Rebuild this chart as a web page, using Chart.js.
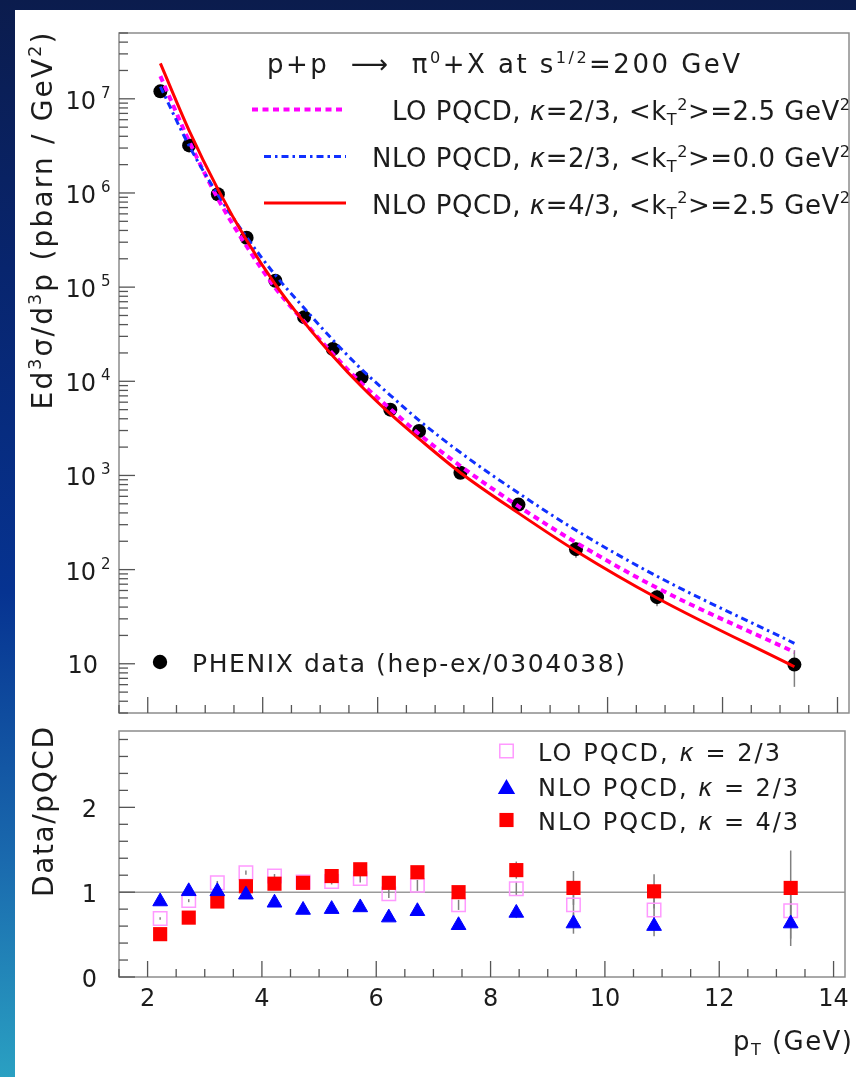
<!DOCTYPE html>
<html>
<head>
<meta charset="utf-8">
<title>p+p to pi0 + X at 200 GeV</title>
<script src="https://cdn.jsdelivr.net/npm/chart.js@4.4.1/dist/chart.umd.min.js"></script>
<style>
  html, body { margin: 0; padding: 0; }
  body {
    width: 856px; height: 1077px; overflow: hidden; position: relative;
    background: linear-gradient(to bottom, #0b1c4d 0%, #08256e 25%, #063391 55%, #1a6aae 80%, #2aa0c2 100%);
  }
  #panel { position: absolute; left: 15px; top: 10px; width: 841px; height: 1067px; background: #fff; }
  canvas { position: absolute; left: 0; }
  #spectrum { top: 0; }
  #ratio { top: 720px; }
</style>
</head>
<body>
<div id="panel"></div>
<canvas id="spectrum" width="856" height="720"></canvas>
<canvas id="ratio" width="856" height="357"></canvas>
<script>
// PHENIX pi0 points (hep-ex/0304038), pT in GeV
const pt = [2.22, 2.72, 3.22, 3.72, 4.22, 4.72, 5.22, 5.72, 6.22, 6.72, 7.44, 8.45, 9.45, 10.86, 13.25];
const phenix = [1.2e7, 3.2e6, 9.7e5, 3.35e5, 1.17e5, 4.8e4, 2.2e4, 1.1e4, 5.0e3, 2.97e3, 1.07e3, 490, 165, 51, 9.8];
const phenixErr = [0.02, 0.02, 0.02, 0.02, 0.02, 0.02, 0.03, 0.04, 0.05, 0.06, 0.07, 0.08, 0.19, 0.2, 0.42]; // relative

// pQCD curves
const loK23 = [1.74e7, 3.55e6, 8.7e5, 2.72e5, 9.8e4, 4.3e4, 1.96e4, 9.5e3, 5.1e3, 2.75e3, 1.26e3, 470, 194, 64, 13.3];
const nloK23 = [1.35e7, 3.17e6, 9.6e5, 3.4e5, 1.34e5, 6.0e4, 2.75e4, 1.34e4, 7.1e3, 3.85e3, 1.75e3, 650, 262, 85, 16.5];
const nloK43 = [2.38e7, 4.6e6, 1.1e6, 3.15e5, 1.07e5, 4.25e4, 1.86e4, 8.8e3, 4.5e3, 2.45e3, 1.07e3, 398, 158, 50, 9.3];

// data / pQCD
const ratioLO = [0.69, 0.90, 1.11, 1.23, 1.19, 1.12, 1.125, 1.16, 0.98, 1.08, 0.85, 1.04, 0.85, 0.79, 0.78];
const ratioNLO23 = [0.89, 1.01, 1.01, 0.97, 0.875, 0.79, 0.80, 0.82, 0.70, 0.775, 0.61, 0.755, 0.63, 0.60, 0.63];
const ratioNLO43 = [0.505, 0.70, 0.89, 1.07, 1.10, 1.11, 1.19, 1.27, 1.11, 1.235, 1.00, 1.26, 1.05, 1.01, 1.05];

const xTicks = [2, 4, 6, 8, 10, 12, 14];
const yDecades = [1, 2, 3, 4, 5, 6, 7];
const ratioTicks = [0, 1, 2];

const FONT = '"DejaVu Sans", sans-serif';
const INK = '#1c1c1c';
const FRAME = '#8c8c8c';
const RATIO_TOP = 720;

function xy(ys) {
  return pt.map((p, i) => ({ x: p, y: ys[i] }));
}

// draws a run of text pieces: [text, mode] with mode '', 'it', 'sup', 'sub'
function textRun(ctx, parts, x, y, opts) {
  const size = opts.size;
  let natural = 0, count = 0;
  const runs = parts.map(p => {
    const t = p[0], mode = p[1] || '';
    const small = mode === 'sup' || mode === 'sub';
    const font = (mode === 'it' ? 'italic ' : '') + (small ? size * 0.62 : size) + 'px ' + FONT;
    ctx.font = font;
    ctx.letterSpacing = '0px';
    const w = ctx.measureText(t).width;
    natural += w;
    count += [...t].length;
    return { t, font, w, dy: mode === 'sup' ? -size * 0.4 : mode === 'sub' ? size * 0.2 : 0 };
  });
  const gap = opts.width ? (opts.width - natural) / Math.max(count - 1, 1) : 0;
  const total = natural + gap * (count - 1);
  let cx = opts.align === 'right' ? x - total : opts.align === 'center' ? x - total / 2 : x;
  ctx.fillStyle = opts.color || INK;
  ctx.textAlign = 'left';
  ctx.textBaseline = 'alphabetic';
  ctx.letterSpacing = gap + 'px';
  runs.forEach(r => {
    ctx.font = r.font;
    ctx.fillText(r.t, cx, y + r.dy);
    cx += r.w + gap * [...r.t].length;
  });
  ctx.letterSpacing = '0px';
}

function drawFrame(ctx, a) {
  ctx.strokeStyle = FRAME;
  ctx.lineWidth = 1.5;
  ctx.strokeRect(a.left, a.top, a.right - a.left, a.bottom - a.top);
}

function drawXTicks(ctx, a, x) {
  ctx.strokeStyle = '#555';
  ctx.lineWidth = 1.3;
  for (let v = 1.5; v <= 14.01; v += 0.5) {
    const px = x.getPixelForValue(v);
    const len = xTicks.includes(v) ? 16 : 8;
    ctx.beginPath();
    ctx.moveTo(px, a.bottom);
    ctx.lineTo(px, a.bottom - len);
    ctx.stroke();
  }
}

function vBar(ctx, px, y1, y2) {
  ctx.beginPath();
  ctx.moveTo(px, y1);
  ctx.lineTo(px, y2);
  ctx.stroke();
}

const spectrumDeco = {
  id: 'spectrumDeco',
  beforeDatasetsDraw(chart) {
    const { ctx, scales: { x, y } } = chart;
    ctx.save();
    ctx.strokeStyle = '#808080';
    ctx.lineWidth = 1.5;
    pt.forEach((p, i) => {
      vBar(ctx, x.getPixelForValue(p),
        y.getPixelForValue(phenix[i] * (1 + phenixErr[i])),
        y.getPixelForValue(phenix[i] * (1 - phenixErr[i])));
    });
    ctx.restore();
  },
  afterDatasetsDraw(chart) {
    const { ctx, chartArea: a, scales: { x, y } } = chart;
    ctx.save();
    drawFrame(ctx, a);
    drawXTicks(ctx, a, x);

    // log ticks on the left
    ctx.strokeStyle = '#555';
    ctx.lineWidth = 1.3;
    for (let n = 0; n <= 7; n++) {
      for (let k = 1; k <= 9; k++) {
        const v = k * Math.pow(10, n);
        if (v < y.min || v > y.max) continue;
        const py = y.getPixelForValue(v);
        ctx.beginPath();
        ctx.moveTo(a.left, py);
        ctx.lineTo(a.left + (k === 1 ? 16 : 9), py);
        ctx.stroke();
      }
    }
    yDecades.forEach(n => {
      const py = y.getPixelForValue(Math.pow(10, n));
      if (n === 1) {
        textRun(ctx, [['10']], 98, py + 9, { size: 24, align: 'right' });
      } else {
        textRun(ctx, [['10']], 96, py + 10, { size: 24, align: 'right' });
        textRun(ctx, [[String(n)]], 101, py - 1, { size: 15 });
      }
    });

    // y title
    ctx.save();
    ctx.translate(52, 221);
    ctx.rotate(-Math.PI / 2);
    textRun(ctx, [['Ed'], ['3', 'sup'], ['σ/d'], ['3', 'sup'], ['p (pbarn / GeV'], ['2', 'sup'], [')']],
      0, 0, { size: 28, align: 'center', width: 377 });
    ctx.restore();

    // title and legend
    textRun(ctx, [['p+p  ⟶  π'], ['0', 'sup'], ['+X at s'], ['1/2', 'sup'], ['=200 GeV']],
      267, 73, { size: 26, width: 473 });

    ctx.lineWidth = 4;
    ctx.strokeStyle = '#ff00ff';
    ctx.setLineDash([6, 4.5]);
    ctx.beginPath(); ctx.moveTo(252, 109.5); ctx.lineTo(346, 109.5); ctx.stroke();
    ctx.lineWidth = 3;
    ctx.strokeStyle = '#1030ff';
    ctx.setLineDash([7, 4, 2.5, 4]);
    ctx.beginPath(); ctx.moveTo(264, 156.5); ctx.lineTo(346, 156.5); ctx.stroke();
    ctx.strokeStyle = '#ff0000';
    ctx.setLineDash([]);
    ctx.beginPath(); ctx.moveTo(264, 203); ctx.lineTo(346, 203); ctx.stroke();

    textRun(ctx, [['LO PQCD, '], ['κ', 'it'], ['=2/3, <k'], ['T', 'sub'], ['2', 'sup'], ['>=2.5 GeV'], ['2', 'sup']],
      850, 120, { size: 26, align: 'right', width: 458 });
    textRun(ctx, [['NLO PQCD, '], ['κ', 'it'], ['=2/3, <k'], ['T', 'sub'], ['2', 'sup'], ['>=0.0 GeV'], ['2', 'sup']],
      850, 167, { size: 26, align: 'right', width: 478 });
    textRun(ctx, [['NLO PQCD, '], ['κ', 'it'], ['=4/3, <k'], ['T', 'sub'], ['2', 'sup'], ['>=2.5 GeV'], ['2', 'sup']],
      850, 213.5, { size: 26, align: 'right', width: 478 });

    ctx.fillStyle = '#000';
    ctx.beginPath(); ctx.arc(160, 662, 7.2, 0, Math.PI * 2); ctx.fill();
    textRun(ctx, [['PHENIX data (hep-ex/0304038)']], 192, 672, { size: 25, width: 433 });
    ctx.restore();
  }
};

const ratioDeco = {
  id: 'ratioDeco',
  beforeDatasetsDraw(chart) {
    const { ctx, chartArea: a, scales: { x, y } } = chart;
    ctx.save();
    ctx.strokeStyle = '#9a9a9a';
    ctx.lineWidth = 1.5;
    const p1 = y.getPixelForValue(1);
    ctx.beginPath(); ctx.moveTo(a.left, p1); ctx.lineTo(a.right, p1); ctx.stroke();
    ctx.strokeStyle = '#808080';
    [ratioLO, ratioNLO23, ratioNLO43].forEach(r => {
      pt.forEach((p, i) => {
        vBar(ctx, x.getPixelForValue(p),
          y.getPixelForValue(r[i] * (1 + phenixErr[i])),
          y.getPixelForValue(r[i] * (1 - phenixErr[i])));
      });
    });
    ctx.restore();
  },
  afterDatasetsDraw(chart) {
    const { ctx, chartArea: a, scales: { x, y } } = chart;
    ctx.save();
    drawFrame(ctx, a);
    drawXTicks(ctx, a, x);
    ctx.strokeStyle = '#555';
    ctx.lineWidth = 1.3;
    for (let i = 0; i <= 14; i++) {
      const v = i * 0.2;
      const py = y.getPixelForValue(v);
      ctx.beginPath();
      ctx.moveTo(a.left, py);
      ctx.lineTo(a.left + (i % 5 === 0 ? 16 : 9), py);
      ctx.stroke();
    }
    ratioTicks.forEach(v => {
      textRun(ctx, [[String(v)]], 97, y.getPixelForValue(v) + 9.5, { size: 24, align: 'right' });
    });
    xTicks.forEach(v => {
      textRun(ctx, [[String(v)]], x.getPixelForValue(v), 1006 - RATIO_TOP, { size: 24, align: 'center' });
    });
    textRun(ctx, [['p'], ['T', 'sub'], [' (GeV)']], 852, 1050 - RATIO_TOP, { size: 26, align: 'right', width: 119 });

    ctx.save();
    ctx.translate(53, 812 - RATIO_TOP);
    ctx.rotate(-Math.PI / 2);
    textRun(ctx, [['Data/pQCD']], 0, 0, { size: 28, align: 'center', width: 170 });
    ctx.restore();

    // legend
    const draw = Chart.helpers.drawPoint;
    ctx.lineWidth = 1.5;
    ctx.strokeStyle = '#ff99ff';
    ctx.fillStyle = 'rgba(0,0,0,0)';
    draw(ctx, { pointStyle: 'rect', radius: 9.5, borderWidth: 1.5, rotation: 0 }, 506.5, 751 - RATIO_TOP);
    ctx.strokeStyle = '#0000ff';
    ctx.fillStyle = '#0000ff';
    draw(ctx, { pointStyle: 'triangle', radius: 8.5, borderWidth: 1, rotation: 0 }, 506.5, 789 - RATIO_TOP);
    ctx.strokeStyle = '#ff0000';
    ctx.fillStyle = '#ff0000';
    draw(ctx, { pointStyle: 'rect', radius: 10, borderWidth: 0, rotation: 0 }, 506.5, 820 - RATIO_TOP);

    textRun(ctx, [['LO PQCD, '], ['κ', 'it'], [' = 2/3']], 538, 760.5 - RATIO_TOP, { size: 24, width: 242 });
    textRun(ctx, [['NLO PQCD, '], ['κ', 'it'], [' = 2/3']], 538, 795.5 - RATIO_TOP, { size: 24, width: 260 });
    textRun(ctx, [['NLO PQCD, '], ['κ', 'it'], [' = 4/3']], 538, 830 - RATIO_TOP, { size: 24, width: 260 });
    ctx.restore();
  }
};

const xScale = { type: 'linear', min: 1.5, max: 14.2, display: false };

new Chart(document.getElementById('spectrum'), {
  type: 'line',
  data: {
    datasets: [
      {
        label: 'PHENIX data',
        data: xy(phenix),
        showLine: false,
        pointStyle: 'circle',
        pointRadius: 7,
        pointBackgroundColor: '#000',
        pointBorderColor: '#000',
        pointBorderWidth: 0,
        order: 3,
      },
      {
        label: 'LO PQCD k=2/3 kT2=2.5',
        data: xy(loK23),
        borderColor: '#ff00ff',
        borderWidth: 4,
        borderDash: [6, 4.5],
        pointRadius: 0,
        cubicInterpolationMode: 'monotone',
        order: 2,
      },
      {
        label: 'NLO PQCD k=2/3 kT2=0',
        data: xy(nloK23),
        borderColor: '#1030ff',
        borderWidth: 3,
        borderDash: [7, 4, 2.5, 4],
        pointRadius: 0,
        cubicInterpolationMode: 'monotone',
        order: 1,
      },
      {
        label: 'NLO PQCD k=4/3 kT2=2.5',
        data: xy(nloK43),
        borderColor: '#ff0000',
        borderWidth: 3,
        pointRadius: 0,
        cubicInterpolationMode: 'monotone',
        order: 0,
      },
    ],
  },
  options: {
    responsive: false,
    animation: false,
    devicePixelRatio: 1,
    layout: { padding: { left: 119, right: 3, top: 33, bottom: 6 } },
    scales: {
      x: xScale,
      y: { type: 'logarithmic', min: 3, max: 5e7, display: false },
    },
    plugins: { legend: { display: false }, tooltip: { enabled: false } },
  },
  plugins: [spectrumDeco],
});

new Chart(document.getElementById('ratio'), {
  type: 'line',
  data: {
    datasets: [
      {
        label: 'LO PQCD k=2/3',
        data: xy(ratioLO),
        showLine: false,
        pointStyle: 'rect',
        pointRadius: 9.5,
        pointBackgroundColor: 'rgba(0,0,0,0)',
        pointBorderColor: '#ff99ff',
        pointBorderWidth: 1.5,
        order: 2,
      },
      {
        label: 'NLO PQCD k=4/3',
        data: xy(ratioNLO43),
        showLine: false,
        pointStyle: 'rect',
        pointRadius: 10,
        pointBackgroundColor: '#ff0000',
        pointBorderWidth: 0,
        order: 1,
      },
      {
        label: 'NLO PQCD k=2/3',
        data: xy(ratioNLO23),
        showLine: false,
        pointStyle: 'triangle',
        pointRadius: 8.5,
        pointBackgroundColor: '#0000ff',
        pointBorderColor: '#0000ff',
        pointBorderWidth: 1,
        order: 0,
      },
    ],
  },
  options: {
    responsive: false,
    animation: false,
    devicePixelRatio: 1,
    layout: { padding: { left: 119, right: 3, top: 4, bottom: 100 } },
    scales: {
      x: xScale,
      y: { type: 'linear', min: 0, max: 2.9, display: false },
    },
    plugins: { legend: { display: false }, tooltip: { enabled: false } },
  },
  plugins: [ratioDeco],
});
</script>
</body>
</html>
